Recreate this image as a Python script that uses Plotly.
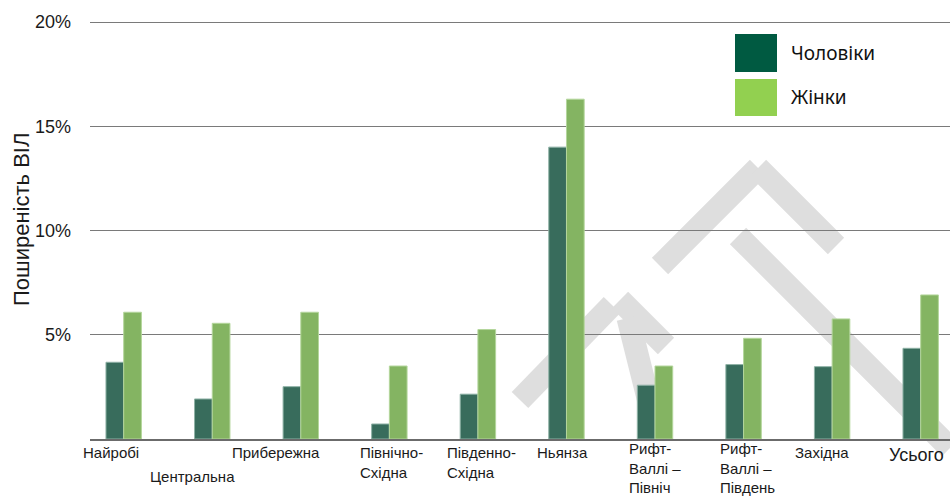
import plotly.graph_objects as go

# ---------------- data ----------------
categories = ["Найробі", "Центральна", "Прибережна", "Північно-Східна", "Південно-Східна",
              "Ньянза", "Рифт-Валлі – Північ", "Рифт-Валлі – Південь", "Західна", "Усього"]
label_text = ["Найробі", "Центральна", "Прибережна", "Північно-<br>Східна", "Південно-<br>Східна",
              "Ньянза", "Рифт-<br>Валлі –<br>Північ", "Рифт-<br>Валлі –<br>Південь", "Західна", "Усього"]
men = [3.68, 1.92, 2.51, 0.72, 2.15, 14.0, 2.58, 3.57, 3.47, 4.35]
women = [6.08, 5.55, 6.08, 3.50, 5.25, 16.3, 3.50, 4.83, 5.76, 6.91]
series_names = ["Чоловіки", "Жінки"]
y_tickvals = [5, 10, 15, 20]
y_ticktext = ["5%", "10%", "15%", "20%"]
y_title = "Поширеність ВІЛ"

# ---------------- style / layout ----------------
W, H = 950, 497
ML, MR, MT, MB = 90, 0, 21, 58
PW, PH = W - ML - MR, H - MT - MB
FONT = "Liberation Sans, Arial, sans-serif"

def px(x):
    return (x - ML) / PW

def py(y):
    return (H - MB - y) / PH

# label placement (pixel offset from category centre, pixel y centre, anchor, size)
label_style = [
    (-12.7, 452, "center", 15), (-19.8, 477, "center", 15), (-24.8, 452, "center", 15),
    (-31.7, 462, "left", 15), (-33.0, 462, "left", 15), (-4.0, 452, "center", 15),
    (-28.3, 468, "left", 15), (-25.3, 468, "left", 15), (-10.0, 452, "center", 15),
    (-4.2, 455, "center", 18),
]

fig = go.Figure()
fig.add_trace(go.Bar(x=categories, y=men, name=series_names[0],
                     marker=dict(color="#386c5c", line=dict(color="#8fb2a6", width=1))))
fig.add_trace(go.Bar(x=categories, y=women, name=series_names[1],
                     marker=dict(color="#84b462", line=dict(color="#b4d69c", width=1))))

annotations = []
for cat, txt, (dx, yc, anchor, size) in zip(categories, label_text, label_style):
    annotations.append(dict(x=cat, xref="x", xshift=dx, y=py(yc), yref="paper",
                            text=txt, showarrow=False, xanchor=anchor, yanchor="middle",
                            align="left", font=dict(family=FONT, size=size, color="#1a1a1a")))

# y title
annotations.append(dict(x=px(21), y=py(220), xref="paper", yref="paper", text=y_title,
                        textangle=-90, showarrow=False, xanchor="center", yanchor="middle",
                        font=dict(family=FONT, size=22, color="#1a1a1a")))

# legend (drawn manually for large swatches)
legend_colors = ["#005a41", "#92d050"]
legend_rows = [(34, 72, 53), (79, 116, 97)]
shapes = []
for name, col, (y0, y1, yc) in zip(series_names, legend_colors, legend_rows):
    shapes.append(dict(type="rect", xref="paper", yref="paper", x0=px(735), x1=px(777),
                       y0=py(y1), y1=py(y0), fillcolor=col, line=dict(width=0), layer="above"))
    annotations.append(dict(x=px(789), y=py(yc), xref="paper", yref="paper", text=name,
                            showarrow=False, xanchor="left", yanchor="middle",
                            font=dict(family="Noto Sans, sans-serif", size=19, color="#111111")))

# faint watermark strokes
wm = [((520, 400), (612, 305)), ((620, 300), (666, 346)), ((628, 318), (656, 430)),
      ((660, 266), (758, 168)), ((758, 168), (836, 246)), ((738, 236), (950, 448))]
for (x0, y0), (x1, y1) in wm:
    shapes.append(dict(type="line", xref="paper", yref="paper", x0=px(x0), y0=py(y0),
                       x1=px(x1), y1=py(y1), line=dict(color="#dedede", width=23), layer="below"))

fig.update_layout(
    width=W, height=H,
    margin=dict(l=ML, r=MR, t=MT, b=MB, pad=0),
    paper_bgcolor="white", plot_bgcolor="rgba(0,0,0,0)",
    barmode="group", bargap=0.6, bargroupgap=0,
    showlegend=False,
    annotations=annotations, shapes=shapes,
    font=dict(family=FONT, color="#1a1a1a"),
)
fig.update_xaxes(range=[-0.3805, 9.331], showticklabels=False, showgrid=False,
                 showline=True, linecolor="#6b6b6b", linewidth=2, zeroline=False, ticks="")
fig.update_yaxes(range=[0, 20.05], tickvals=y_tickvals, ticktext=y_ticktext,
                 showgrid=True, gridcolor="#7a7a7a", gridwidth=1, zeroline=False,
                 showline=False, ticks="", ticklabelstandoff=18,
                 tickfont=dict(family=FONT, size=18, color="#1a1a1a"))

fig.write_html("out.html")
